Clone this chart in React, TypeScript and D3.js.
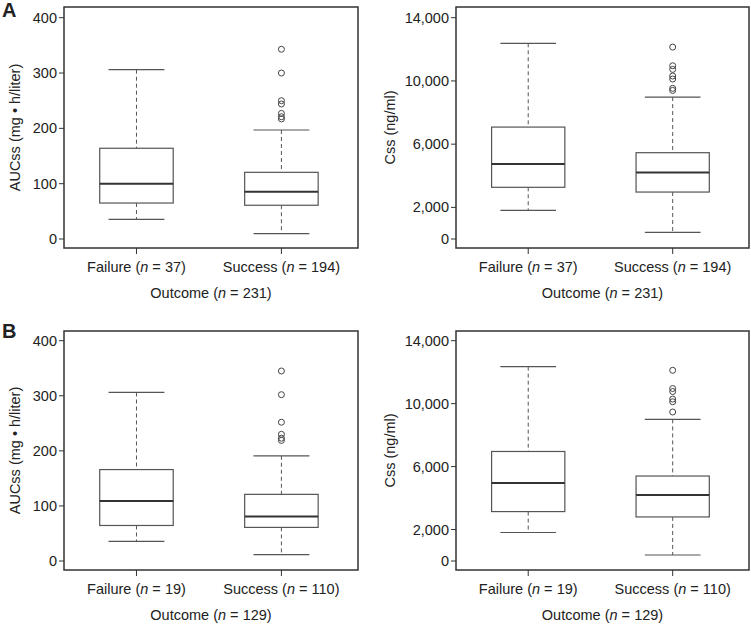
import React from "react";
import * as d3 from "d3";

const categories = ["Failure", "Success"];

// Panel A
const nA = [37, 194];
const totalA = 231;
const aucA = [
  { lo: 35.5, q1: 65, med: 100, q3: 164, hi: 306, out: [] as number[] },
  { lo: 9.6, q1: 61, med: 85.5, q3: 120.5, hi: 197, out: [343, 300, 250, 244, 227, 221, 217] },
];
const cssA = [
  { lo: 1810, q1: 3270, med: 4740, q3: 7080, hi: 12380, out: [] as number[] },
  { lo: 420, q1: 2970, med: 4200, q3: 5460, hi: 8980, out: [12140, 10960, 10730, 10310, 10120, 9530, 9400] },
];

// Panel B
const nB = [19, 110];
const totalB = 129;
const aucB = [
  { lo: 35.5, q1: 64.5, med: 109, q3: 166, hi: 306, out: [] as number[] },
  { lo: 11.4, q1: 61, med: 81, q3: 121, hi: 191, out: [345, 302, 252, 230, 223, 219] },
];
const cssB = [
  { lo: 1810, q1: 3140, med: 4960, q3: 6960, hi: 12350, out: [] as number[] },
  { lo: 380, q1: 2800, med: 4200, q3: 5400, hi: 9000, out: [12120, 10960, 10770, 10290, 10120, 9470] },
];

const aucTicks = [0, 100, 200, 300, 400];
const aucMax = 400;
const cssTicks = [0, 2000, 6000, 10000, 14000];
const cssMax = 14000;

const FONT = "'Liberation Sans', Arial, Helvetica, sans-serif";
const LINE = "#555";
const FRAME = "#333";

type Box = { lo: number; q1: number; med: number; q3: number; hi: number; out: number[] };

function Panel(props: {
  x0: number; x1: number; y0: number; y1: number;
  pad: number; max: number; ticks: number[]; data: Box[];
  n: number[]; total: number; ylabel: React.ReactNode; fmt: (v: number) => string; labOff: number;
}) {
  const { x0, x1, y0, y1, pad, max, ticks, data, n, total, ylabel, fmt, labOff } = props;
  const W = x1 - x0;
  const y = d3.scaleLinear().domain([0, max]).range([y1 - 9, y0 + pad]);
  const x = d3.scalePoint<string>().domain(categories).range([x0, x1 - 0.014 * W]).padding(0.5);
  const bw = 0.25 * W;
  const cw = 0.19 * W;
  return (
    <g fontFamily={FONT} fontSize={14.5} fill="#222">
      <rect x={x0} y={y0} width={W} height={y1 - y0} fill="none" stroke={FRAME} strokeWidth={1.5} />
      {ticks.map((t) => (
        <g key={t}>
          <line x1={x0 - 5} x2={x0} y1={y(t)} y2={y(t)} stroke={FRAME} strokeWidth={1} />
          <text x={x0 - 7} y={y(t)} dy="0.35em" textAnchor="end">{fmt(t)}</text>
        </g>
      ))}
      <text transform={`translate(${x0 - labOff},${(y0 + y1) / 2}) rotate(-90)`} textAnchor="middle" dy="0.35em">
        {ylabel}
      </text>
      {categories.map((c, i) => {
        const cx = x(c)!;
        const b = data[i];
        return (
          <g key={c}>
            <line x1={cx} x2={cx} y1={y1} y2={y1 + 6} stroke={FRAME} strokeWidth={1} />
            <text x={cx} y={y1 + 19} dy="0.35em" textAnchor="middle">
              {c} (<tspan fontStyle="italic">n</tspan> = {n[i]})
            </text>
            <line x1={cx} x2={cx} y1={y(b.hi)} y2={y(b.q3)} stroke={LINE} strokeDasharray="4,3" />
            <line x1={cx} x2={cx} y1={y(b.q1)} y2={y(b.lo)} stroke={LINE} strokeDasharray="4,3" />
            <line x1={cx - cw / 2} x2={cx + cw / 2} y1={y(b.hi)} y2={y(b.hi)} stroke={LINE} strokeWidth={1.2} />
            <line x1={cx - cw / 2} x2={cx + cw / 2} y1={y(b.lo)} y2={y(b.lo)} stroke={LINE} strokeWidth={1.2} />
            <rect x={cx - bw / 2} y={y(b.q3)} width={bw} height={y(b.q1) - y(b.q3)} fill="white" stroke={LINE} strokeWidth={1.2} />
            <line x1={cx - bw / 2} x2={cx + bw / 2} y1={y(b.med)} y2={y(b.med)} stroke="#333" strokeWidth={2} />
            {b.out.map((o, j) => (
              <circle key={j} cx={cx} cy={y(o)} r={3} fill="none" stroke="#444" strokeWidth={1} />
            ))}
          </g>
        );
      })}
      <text x={(x0 + x1) / 2} y={y1 + 45} dy="0.35em" textAnchor="middle">
        Outcome (<tspan fontStyle="italic">n</tspan> = {total})
      </text>
    </g>
  );
}

const aucLabel = <>AUCss (mg • h/liter)</>;
const cssLabel = <>Css (ng/ml)</>;
const fmtAuc = (v: number) => String(v);
const fmtCss = d3.format(",");

export default function App() {
  return (
    <svg width={751} height={626} style={{ position: "absolute", left: 0, top: 0, background: "white" }}>
      <text x={2} y={17} fontFamily={FONT} fontSize={20} fontWeight="bold" fill="#222">A</text>
      <text x={2} y={338} fontFamily={FONT} fontSize={20} fontWeight="bold" fill="#222">B</text>
      <Panel x0={64} x1={358} y0={7} y1={248} pad={10.7} max={aucMax} ticks={aucTicks} data={aucA} n={nA} total={totalA} ylabel={aucLabel} fmt={fmtAuc} labOff={49} />
      <Panel x0={456} x1={749} y0={7} y1={248} pad={10.7} max={cssMax} ticks={cssTicks} data={cssA} n={nA} total={totalA} ylabel={cssLabel} fmt={fmtCss} labOff={66} />
      <Panel x0={64} x1={358} y0={331} y1={570} pad={9.7} max={aucMax} ticks={aucTicks} data={aucB} n={nB} total={totalB} ylabel={aucLabel} fmt={fmtAuc} labOff={49} />
      <Panel x0={456} x1={749} y0={331} y1={570} pad={9.7} max={cssMax} ticks={cssTicks} data={cssB} n={nB} total={totalB} ylabel={cssLabel} fmt={fmtCss} labOff={66} />
    </svg>
  );
}
